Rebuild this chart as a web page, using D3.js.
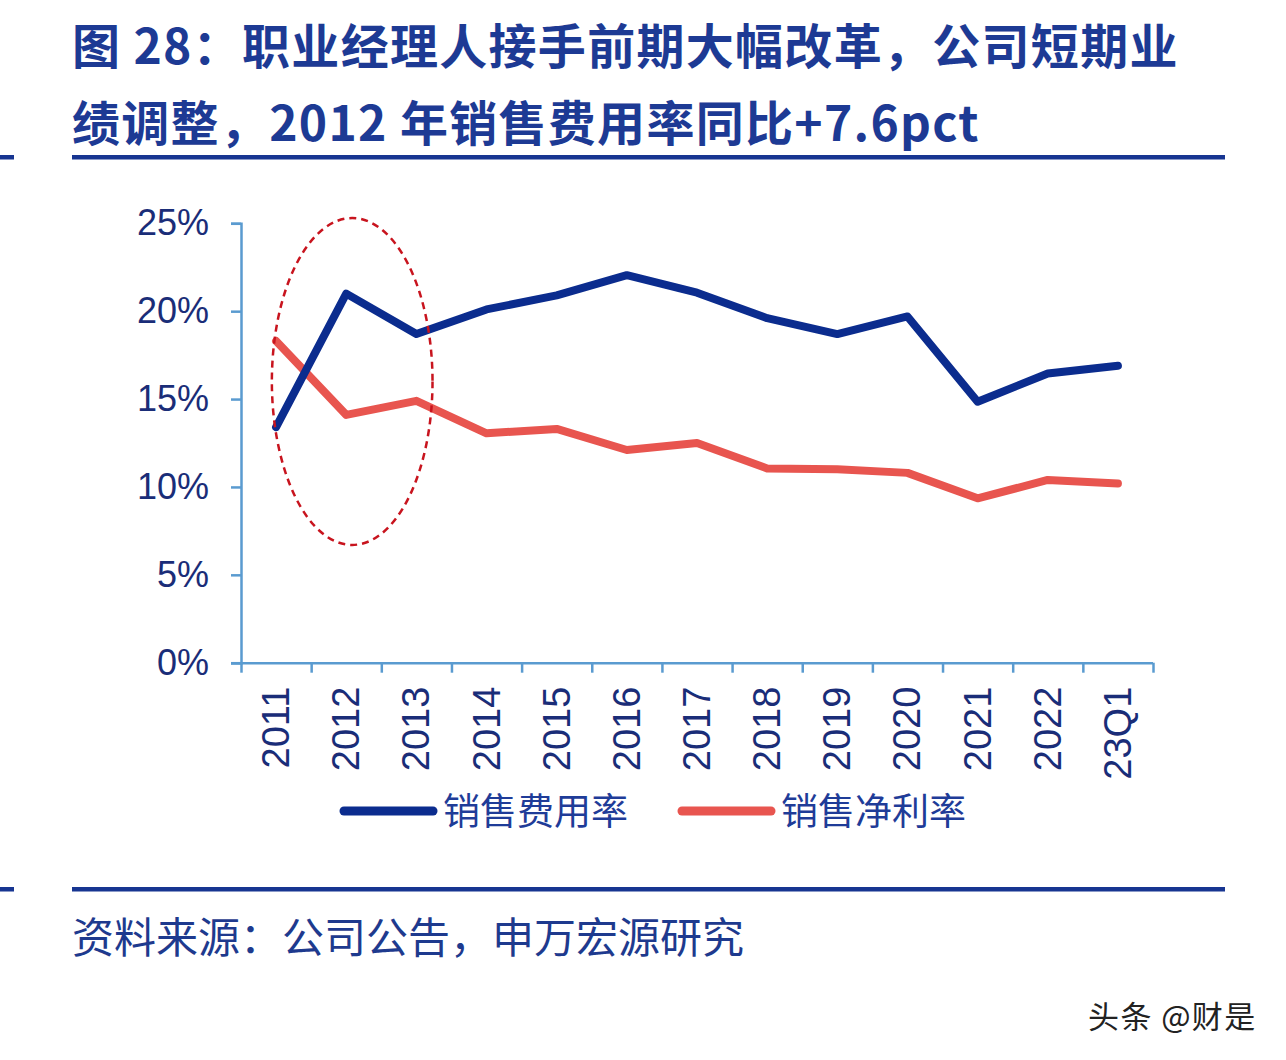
<!DOCTYPE html>
<html>
<head>
<meta charset="utf-8">
<script src="https://cdn.jsdelivr.net/npm/d3@7"></script>
<style>
  html, body { margin: 0; padding: 0; background: #ffffff; }
  svg { display: block; }
</style>
</head>
<body>
<svg id="chart" width="1286" height="1060"></svg>
<script>
// ---- data ----
const categories = ["2011","2012","2013","2014","2015","2016","2017","2018","2019","2020","2021","2022","23Q1"];
const salesExpenseRate = [13.4, 21.0, 18.7, 20.1, 20.9, 22.05, 21.05, 19.6, 18.7, 19.7, 14.85, 16.45, 16.9];
const netProfitRate   = [18.3, 14.1, 14.9, 13.05, 13.3, 12.1, 12.5, 11.05, 11.0, 10.8, 9.35, 10.4, 10.2];
const seriesNames = ["销售费用率", "销售净利率"];
const yTicks = [0, 5, 10, 15, 20, 25];
const titleLines = ["图 28：职业经理人接手前期大幅改革，公司短期业", "绩调整，2012 年销售费用率同比+7.6pct"];
const sourceText = "资料来源：公司公告，申万宏源研究";
const watermark = "头条 @财是";
// highlight ellipse in data terms: category-index span and percent span
const highlightIdx = [-0.06, 2.23];
const highlightPct = [6.7, 25.3];

// ---- styles ----
const navy = "#1d3a94";
const labelColor = "#1a2d78";
const blue = "#0b2c8e";
const red = "#e8554f";
const axisColor = "#5a9bd0";

const svg = d3.select("#chart");

// title
svg.selectAll("text.title").data(titleLines).join("text")
  .attr("class", "title")
  .attr("x", 72)
  .attr("y", (d, i) => 64 + i * 77)
  .attr("font-family", "'Noto Sans CJK SC', sans-serif")
  .attr("font-weight", 700)
  .attr("font-size", 48)
  .attr("letter-spacing", 1.3)
  .attr("fill", navy)
  .text(d => d);

// rules
[157, 889].forEach(yy => {
  svg.append("rect").attr("x", 72).attr("y", yy - 2).attr("width", 1153).attr("height", 4.5).attr("fill", "#173591");
  svg.append("rect").attr("x", 0).attr("y", yy - 2).attr("width", 14).attr("height", 4.5).attr("fill", "#173591");
});

// scales
const x0 = 241, x1 = 1153, yBottom = 662.7, yTop = 223.3;
const xBand = d3.scaleBand().domain(categories).range([x0, x1]);
const xIdx = d3.scaleLinear().domain([0, categories.length]).range([x0, x1]);
const y = d3.scaleLinear().domain([0, 25]).range([yBottom, yTop]);
const cx = (d, i) => xBand(categories[i]) + xBand.bandwidth() / 2;

// y axis
const yAxis = svg.append("g").attr("transform", `translate(${x0},0)`)
  .call(d3.axisLeft(y).tickValues(yTicks).tickSize(10).tickPadding(22).tickFormat(d => d + "%"));
yAxis.select(".domain").attr("stroke", axisColor).attr("stroke-width", 2.5);
yAxis.selectAll(".tick line").attr("stroke", axisColor).attr("stroke-width", 2.5);
yAxis.selectAll(".tick text")
  .attr("font-family", "'Liberation Sans', Arial, sans-serif")
  .attr("font-size", 36).attr("fill", labelColor);

// x axis (ticks at category boundaries)
const xAxis = svg.append("g").attr("transform", `translate(0,${yBottom})`)
  .call(d3.axisBottom(xIdx).tickValues(d3.range(categories.length + 1)).tickSize(10).tickSizeOuter(0).tickFormat(""));
xAxis.select(".domain").attr("stroke", axisColor).attr("stroke-width", 2.5)
  .attr("d", `M${x0 - 10},0.5H${x1}`);
xAxis.selectAll(".tick line").attr("stroke", axisColor).attr("stroke-width", 2.5);

// x labels rotated
svg.append("g").selectAll("text").data(categories).join("text")
  .attr("transform", d => `translate(${xBand(d) + xBand.bandwidth() / 2},${yBottom + 24}) rotate(-90)`)
  .attr("text-anchor", "end")
  .attr("dominant-baseline", "central")
  .attr("font-family", "'Liberation Sans', Arial, sans-serif")
  .attr("font-size", 38)
  .attr("fill", labelColor)
  .text(d => d);

// lines
const line = d3.line().x(cx).y(d => y(d));
svg.append("path").datum(netProfitRate)
  .attr("d", line).attr("fill", "none").attr("stroke", red)
  .attr("stroke-width", 8).attr("stroke-linejoin", "round").attr("stroke-linecap", "round");
svg.append("path").datum(salesExpenseRate)
  .attr("d", line).attr("fill", "none").attr("stroke", blue)
  .attr("stroke-width", 8).attr("stroke-linejoin", "round").attr("stroke-linecap", "round");

// highlight ellipse
const exL = xBand(categories[0]) + xBand.bandwidth() / 2 + highlightIdx[0] * xBand.step();
const exR = xBand(categories[0]) + xBand.bandwidth() / 2 + highlightIdx[1] * xBand.step();
svg.append("ellipse")
  .attr("cx", (exL + exR) / 2).attr("cy", (y(highlightPct[0]) + y(highlightPct[1])) / 2)
  .attr("rx", (exR - exL) / 2).attr("ry", (y(highlightPct[0]) - y(highlightPct[1])) / 2)
  .attr("fill", "none").attr("stroke", "#c8141e").attr("stroke-width", 2.5)
  .attr("stroke-dasharray", "7,5");

// legend
const legendItems = [
  { name: seriesNames[0], color: blue, lx: 344 },
  { name: seriesNames[1], color: red, lx: 682 }
];
const lg = svg.append("g");
legendItems.forEach(it => {
  lg.append("line").attr("x1", it.lx).attr("x2", it.lx + 89).attr("y1", 811).attr("y2", 811)
    .attr("stroke", it.color).attr("stroke-width", 9).attr("stroke-linecap", "round");
  lg.append("text").attr("x", it.lx + 99).attr("y", 825)
    .attr("font-family", "'Noto Sans CJK SC', sans-serif")
    .attr("font-size", 37).attr("fill", "#1f3c98")
    .text(it.name);
});

// source
svg.append("text").attr("x", 72).attr("y", 953)
  .attr("font-family", "'Noto Sans CJK SC', sans-serif")
  .attr("font-size", 42).attr("fill", "#1e3a8e")
  .text(sourceText);

// watermark
svg.append("text").attr("x", 1088).attr("y", 1028)
  .attr("font-family", "'Noto Sans CJK SC', sans-serif")
  .attr("font-size", 31).attr("letter-spacing", 1.4).attr("fill", "#222")
  .attr("stroke", "#fff").attr("stroke-width", 1).attr("paint-order", "stroke")
  .text(watermark);
</script>
</body>
</html>
